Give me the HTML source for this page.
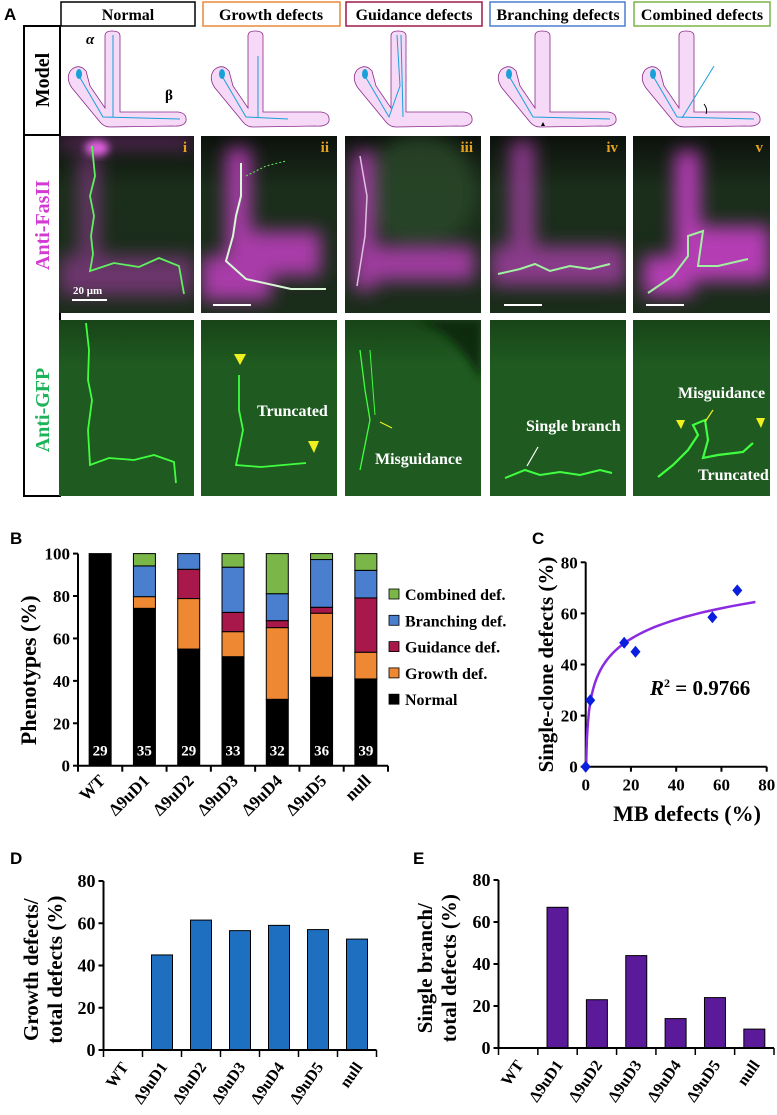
<!DOCTYPE html>
<html><head><meta charset="utf-8"><style>
html,body{margin:0;padding:0;background:#fff;}
svg{display:block;}
.ser{font-family:"Liberation Serif",serif;font-weight:bold;}
.san{font-family:"Liberation Sans",sans-serif;font-weight:bold;}
</style></head><body>
<svg id="fig" width="777" height="1115" viewBox="0 0 777 1115" xmlns="http://www.w3.org/2000/svg">
<defs>
<filter id="blur4" x="-30%" y="-30%" width="160%" height="160%"><feGaussianBlur stdDeviation="4"/></filter>
<filter id="blur8" x="-30%" y="-30%" width="160%" height="160%"><feGaussianBlur stdDeviation="9"/></filter>
<linearGradient id="g1" x1="0" y1="0" x2="0" y2="1"><stop offset="0" stop-color="#0c120c"/><stop offset="0.3" stop-color="#1b2e1b"/><stop offset="1" stop-color="#1a2c1a"/></linearGradient>
<linearGradient id="g2" x1="0" y1="0" x2="0" y2="1"><stop offset="0" stop-color="#184418"/><stop offset="0.25" stop-color="#1f5a20"/><stop offset="1" stop-color="#1f5a20"/></linearGradient>
<g id="lshape">
<path d="M45,10 Q45,5 52,5 Q60,5 60,10 L60,86 L118,86 Q127,87 126,95 Q124,101 112,100 L50,101 Q44,101 40,96 L12,62 Q5,52 11,44 Q19,37 26,45 L30,60 L45,82 Z" fill="#f6d9f6" stroke="#8a2a8a" stroke-width="0.8"/>
<ellipse cx="19" cy="48" rx="3" ry="5" fill="#1aa0d8"/>
</g>
</defs>

<text class="san" x="4" y="20" font-size="17">A</text>
<g>
<rect x="61" y="2" width="134" height="24" fill="#fff" stroke="#000" stroke-width="1.5"/>
<text class="ser" x="128" y="20" font-size="16" text-anchor="middle">Normal</text>
<rect x="203" y="2" width="137" height="24" fill="#fff" stroke="#e8893a" stroke-width="1.5"/>
<text class="ser" x="271" y="20" font-size="16" text-anchor="middle">Growth defects</text>
<rect x="346" y="2" width="136" height="24" fill="#fff" stroke="#a01848" stroke-width="1.5"/>
<text class="ser" x="414" y="20" font-size="16" text-anchor="middle">Guidance defects</text>
<rect x="490" y="2" width="135" height="24" fill="#fff" stroke="#4a7fcf" stroke-width="1.5"/>
<text class="ser" x="558" y="20" font-size="16" text-anchor="middle">Branching defects</text>
<rect x="634" y="2" width="136" height="24" fill="#fff" stroke="#7ab648" stroke-width="1.5"/>
<text class="ser" x="702" y="20" font-size="16" text-anchor="middle">Combined defects</text>
</g>
<rect x="24" y="26" width="36" height="109" fill="#fff" stroke="#000" stroke-width="2"/>
<text class="ser" x="0" y="0" font-size="20" text-anchor="middle" transform="translate(49,80) rotate(-90)">Model</text>
<rect x="24" y="135" width="36" height="361" fill="#fff" stroke="#000" stroke-width="2"/>
<text class="ser" x="0" y="0" font-size="20" fill="#d33ad3" text-anchor="middle" transform="translate(49,225) rotate(-90)">Anti-FasII</text>
<text class="ser" x="0" y="0" font-size="20" fill="#1db35a" text-anchor="middle" transform="translate(49,410) rotate(-90)">Anti-GFP</text>

<g transform="translate(60,26)">
<use href="#lshape"/>
<polyline points="19,50 43,91 120,93" fill="none" stroke="#1aa0d8" stroke-width="1"/>
<line x1="53" y1="9" x2="53" y2="91" stroke="#1aa0d8" stroke-width="1"/>
<text x="26" y="18" font-family="Liberation Serif,serif" font-style="italic" font-weight="bold" font-size="15">α</text>
<text x="105" y="74" font-family="Liberation Serif,serif" font-weight="bold" font-size="15">β</text>
</g>
<g transform="translate(203,26)">
<use href="#lshape"/>
<polyline points="19,50 43,91 85,93" fill="none" stroke="#1aa0d8" stroke-width="1"/>
<line x1="55" y1="30" x2="55" y2="91" stroke="#1aa0d8" stroke-width="1"/>
</g>
<g transform="translate(346,26)">
<use href="#lshape"/>
<polyline points="19,50 43,91 54,60 51,9" fill="none" stroke="#1aa0d8" stroke-width="1"/>
<line x1="55" y1="9" x2="57" y2="91" stroke="#1aa0d8" stroke-width="1"/>
</g>
<g transform="translate(490,26)">
<use href="#lshape"/>
<polyline points="19,50 43,91 120,93" fill="none" stroke="#1aa0d8" stroke-width="1"/>
<path d="M53,96 l-2,4 h4 z" fill="#000"/>
</g>
<g transform="translate(634,26)">
<use href="#lshape"/>
<polyline points="19,50 43,91 120,93" fill="none" stroke="#1aa0d8" stroke-width="1"/>
<line x1="48" y1="92" x2="80" y2="40" stroke="#1aa0d8" stroke-width="1"/>
<path d="M70,78 q4,5 2,10" fill="none" stroke="#000" stroke-width="1"/>
</g>

<g>
<svg x="59" y="136" width="135" height="177"><rect width="135" height="177" fill="url(#g1)"/>
<g filter="url(#blur8)" fill="#b03cb0" opacity="0.55"><rect x="0" y="0" width="135" height="12"/><rect x="20" y="20" width="20" height="120"/><rect x="0" y="120" width="135" height="40"/></g>
<ellipse cx="38" cy="12" rx="12" ry="8" fill="#e060e0" filter="url(#blur4)"/>
<polyline points="33,10 36,40 31,60 35,80 32,100 34,118 31,135 55,127 80,131 100,122 120,130 125,158" fill="none" stroke="#5ef05e" stroke-width="1.8"/>
<rect x="13" y="163" width="35" height="2" fill="#fff"/><text class="ser" x="14" y="158" font-size="11" fill="#fff">20 μm</text>
<text class="ser" x="128" y="16" font-size="15" fill="#e8a020" text-anchor="end">i</text></svg>
<svg x="201" y="136" width="136" height="177"><rect width="136" height="177" fill="url(#g1)"/>
<g filter="url(#blur8)" fill="#cc40cc" opacity="0.8"><rect x="25" y="12" width="25" height="130"/><rect x="40" y="95" width="80" height="45"/><rect x="0" y="120" width="70" height="45"/></g>
<polyline points="40,27 40,60 35,80 32,100 25,125 45,143 90,153 125,153" fill="none" stroke="#d8f8d8" stroke-width="2"/>
<polyline points="45,40 65,30 85,25" fill="none" stroke="#5ef05e" stroke-width="1" stroke-dasharray="2,2"/>
<rect x="12" y="168" width="38" height="2" fill="#fff"/>
<text class="ser" x="128" y="16" font-size="15" fill="#e8a020" text-anchor="end">ii</text></svg>
<svg x="345" y="136" width="136" height="177"><rect width="136" height="177" fill="url(#g1)"/>
<rect x="20" y="0" width="110" height="110" rx="50" fill="#2c4a2c" opacity="0.8" filter="url(#blur8)"/>
<g filter="url(#blur8)" fill="#c040c0" opacity="0.8"><rect x="8" y="15" width="22" height="140"/><rect x="10" y="110" width="120" height="35"/></g>
<polyline points="15,20 22,60 20,100 12,150" fill="none" stroke="#e0c0e0" stroke-width="1.5"/>
<text class="ser" x="128" y="16" font-size="15" fill="#e8a020" text-anchor="end">iii</text></svg>
<svg x="490" y="136" width="136" height="177"><rect width="136" height="177" fill="url(#g1)"/>
<g filter="url(#blur8)" fill="#b040b0" opacity="0.75"><rect x="20" y="5" width="25" height="120"/><rect x="0" y="110" width="136" height="40"/></g>
<polyline points="8,138 30,133 45,128 60,135 80,130 100,133 120,128" fill="none" stroke="#a0f0a0" stroke-width="2"/>
<rect x="14" y="168" width="38" height="2" fill="#fff"/>
<text class="ser" x="128" y="16" font-size="15" fill="#e8a020" text-anchor="end">iv</text></svg>
<svg x="633" y="136" width="137" height="177"><rect width="137" height="177" fill="url(#g1)"/>
<g filter="url(#blur8)" fill="#d040d0" opacity="0.85"><rect x="42" y="15" width="25" height="130"/><rect x="60" y="90" width="77" height="55"/><rect x="10" y="120" width="50" height="40"/></g>
<polyline points="15,157 40,140 55,120 55,100 70,95 65,130 85,130 115,123" fill="none" stroke="#a0f0a0" stroke-width="2"/>
<rect x="13" y="168" width="38" height="2" fill="#fff"/>
<text class="ser" x="130" y="16" font-size="15" fill="#e8a020" text-anchor="end">v</text></svg>
</g>

<g>
<svg x="59" y="320" width="135" height="176"><rect width="135" height="176" fill="url(#g2)"/>
<polyline points="27,3 30,30 29,60 33,80 29,110 31,145 50,138 75,140 95,135 115,142 117,163" fill="none" stroke="#40ff40" stroke-width="1.8"/></svg>
<svg x="201" y="320" width="136" height="176"><rect width="136" height="176" fill="url(#g2)"/>
<polyline points="38,55 38,90 42,110 35,145 60,147 105,143" fill="none" stroke="#40ff40" stroke-width="1.8"/>
<path d="M33,34 h12 l-6,11 z" fill="#f0f020"/><path d="M107,121 h11 l-5,12 z" fill="#f0f020"/>
<text class="ser" x="56" y="96" font-size="16" fill="#fff">Truncated</text></svg>
<svg x="345" y="320" width="136" height="176"><rect width="136" height="176" fill="url(#g2)"/>
<path d="M70,0 H136 V60 Q110,10 70,0 Z" fill="#0e2a0e" filter="url(#blur4)"/>
<polyline points="15,30 20,70 25,100 15,150" fill="none" stroke="#40ff40" stroke-width="1.3"/>
<polyline points="25,30 28,70 30,95" fill="none" stroke="#40ff40" stroke-width="1"/>
<line x1="35" y1="102" x2="47" y2="108" stroke="#f0f020" stroke-width="1.2"/>
<text class="ser" x="30" y="144" font-size="16" fill="#fff">Misguidance</text></svg>
<svg x="490" y="320" width="136" height="176"><rect width="136" height="176" fill="url(#g2)"/>
<polyline points="15,158 35,150 50,155 70,152 90,155 110,150 122,153" fill="none" stroke="#40ff40" stroke-width="2"/>
<line x1="37" y1="146" x2="48" y2="127" stroke="#fff" stroke-width="1.2"/>
<text class="ser" x="36" y="111" font-size="16" fill="#fff">Single branch</text></svg>
<svg x="633" y="320" width="137" height="176"><rect width="137" height="176" fill="url(#g2)"/>
<polyline points="25,157 40,145 55,130 65,115 60,105 72,100 75,120 70,138 85,135 110,132 120,123" fill="none" stroke="#40ff40" stroke-width="2.2"/>
<path d="M43,100 h9 l-4,9 z" fill="#f0f020"/><path d="M123,98 h9 l-4,10 z" fill="#f0f020"/>
<line x1="80" y1="90" x2="72" y2="102" stroke="#f0f020" stroke-width="1.2"/>
<text class="ser" x="45" y="78" font-size="16" fill="#fff">Misguidance</text>
<text class="ser" x="65" y="160" font-size="16" fill="#fff">Truncated</text></svg>
</g>

<text class="san" x="10" y="544" font-size="17">B</text>
<text class="san" x="532" y="544" font-size="17">C</text>
<text class="san" x="10" y="864" font-size="17">D</text>
<text class="san" x="413" y="864" font-size="17">E</text>

<g id="chartB"></g>
<g id="chartC"></g>
<g id="chartD"></g>
<g id="chartE"></g>
</svg>

<script>
const categories = ["WT","Δ9uD1","Δ9uD2","Δ9uD3","Δ9uD4","Δ9uD5","null"];
const normalVals = [100,74.2,55,51.4,31.3,41.7,40.9];
const growthVals = [0,5.5,23.8,11.8,33.8,30.2,12.6];
const guidanceVals = [0,0,13.8,9.1,3.3,2.8,25.6];
const branchingVals = [0,14.5,7.4,21.3,12.7,22.5,13];
const combinedVals = [0,5.8,0,6.4,18.9,2.8,7.9];
const sampleSizes = [29,35,29,33,32,36,39];
const bTicks = [0,20,40,60,80,100];
const scatterX = [0,2,17,22,56,67];
const scatterY = [0,26,48.5,45,58.5,69];
const fitA = 17.4, fitB = 10.9;
const cTicks = [0,20,40,60,80];
const growthShare = [0,45,61.5,56.5,59,57,52.5];
const singleBranchShare = [0,67,23,44,14,24,9];
const deTicks = [0,20,40,60,80];

const NS="http://www.w3.org/2000/svg";
function mk(parent,tag,attrs,text){const e=document.createElementNS(NS,tag);for(const k in attrs)e.setAttribute(k,attrs[k]);if(text!==undefined)e.textContent=text;parent.appendChild(e);return e;}

(function(){
const g=document.getElementById('chartB');
const x0=78,x1=388,y0=765.7,ppu=2.121;
const step=(x1-x0)/categories.length, bw=22;
const ys=v=>y0-v*ppu;
const xs=i=>x0+step*(i+0.5);
const series=[[normalVals,"#000000","Normal"],[growthVals,"#ee8833","Growth def."],[guidanceVals,"#a8184a","Guidance def."],[branchingVals,"#4a7fcf","Branching def."],[combinedVals,"#7ab648","Combined def."]];
categories.forEach((c,i)=>{let acc=0;
 series.forEach(s=>{const v=s[0][i];if(v<=0)return;
  const r=mk(g,'rect',{x:xs(i)-bw/2,y:ys(acc+v),width:bw,height:v*ppu,fill:s[1],stroke:'#000','stroke-width':1});
  
  
  acc+=v;});
 const t=mk(g,'text',{x:xs(i),y:y0-10,'text-anchor':'middle','font-size':15,fill:'#fff',class:'ser'},sampleSizes[i]);
 
 
 const lb=mk(g,'text',{class:'ser','font-size':17,'text-anchor':'end',transform:`translate(${xs(i)+6},${y0+16}) rotate(-45)`},c);
 
 
});
const ax=mk(g,'path',{d:`M${x0},${ys(100)} V${y0} H${x1}`,fill:'none',stroke:'#000','stroke-width':2});


for(let i=0;i<=categories.length;i++)mk(g,'line',{x1:x0+step*i,x2:x0+step*i,y1:y0,y2:y0+6,stroke:'#000','stroke-width':2});
bTicks.forEach(t=>{mk(g,'line',{x1:x0-5,x2:x0,y1:ys(t),y2:ys(t),stroke:'#000','stroke-width':2});
 const tl=mk(g,'text',{x:x0-8,y:ys(t)+6,'text-anchor':'end','font-size':17,class:'ser'},t);
 
 });
const yt=mk(g,'text',{class:'ser','font-size':22,'text-anchor':'middle',transform:`translate(36,${ys(45)}) rotate(-90)`},'Phenotypes (%)');


series.slice().reverse().forEach((s,k)=>{const y=594+k*26.3;
 const sq=mk(g,'rect',{x:389,y:y-5,width:10,height:10,fill:s[1],stroke:'#000','stroke-width':0.8});
 
 
 const lt=mk(g,'text',{x:405,y:y+6,'font-size':16,class:'ser'},s[2]);
 
 });
})();

(function(){
const g=document.getElementById('chartC');
const x0=585.7,x1=766.7,y0=766.7,y1=562.3;
const xs=v=>x0+(x1-x0)*v/80, ys=v=>y0-(y0-y1)*v/80;
const ax=mk(g,'path',{d:`M${x0},${y1} V${y0} H${x1}`,fill:'none',stroke:'#000','stroke-width':2});


cTicks.forEach(t=>{mk(g,'line',{x1:x0-5,x2:x0,y1:ys(t),y2:ys(t),stroke:'#000','stroke-width':2});
 mk(g,'line',{x1:xs(t),x2:xs(t),y1:y0,y2:y0+5,stroke:'#000','stroke-width':2});
 const a=mk(g,'text',{x:x0-8,y:ys(t)+6,'text-anchor':'end','font-size':17,class:'ser'},t);
 
 
 const b=mk(g,'text',{x:xs(t),y:y0+24,'text-anchor':'middle','font-size':17,class:'ser'},t);
 
 });
let d='';for(let v=0.2;v<=75;v*=1.08){const y=fitA+fitB*Math.log(v);d+=(d?'L':'M')+xs(v).toFixed(1)+','+ys(Math.max(0,y)).toFixed(1);}
d+='L'+xs(75)+','+ys(fitA+fitB*Math.log(75));
const fl=mk(g,'path',{d:'M'+xs(0)+','+ys(0)+' '+d.replace('M','L'),fill:'none',stroke:'#8a2be2','stroke-width':2.5});


scatterX.forEach((v,i)=>{const cx=xs(v),cy=ys(scatterY[i]);
 const p=mk(g,'path',{d:`M${cx},${cy-6} L${cx+5},${cy} L${cx},${cy+6} L${cx-5},${cy} Z`,fill:'#0a1ee0'});
 
 });
const r2=mk(g,'text',{x:650,y:695,'font-size':21,class:'ser'});


mk(r2,'tspan',{'font-style':'italic'},'R');mk(r2,'tspan',{dy:-8,'font-size':12},'2');mk(r2,'tspan',{dy:8},' = 0.9766');
const xt=mk(g,'text',{x:687,y:821,'text-anchor':'middle','font-size':22,class:'ser'},'MB defects (%)');


const yt=mk(g,'text',{class:'ser','font-size':21,'text-anchor':'middle',transform:`translate(553,${ys(40)}) rotate(-90)`},'Single-clone defects (%)');


})();

function barChart(id,vals,color,x0,x1,y0,y80,t1,t2,tx){
const g=document.getElementById(id);
const step=(x1-x0)/categories.length,bw=21;
const ys=v=>y0-(y0-y80)*v/80, xs=i=>x0+step*(i+0.5);
vals.forEach((v,i)=>{if(v>0){const r=mk(g,'rect',{x:xs(i)-bw/2,y:ys(v),width:bw,height:y0-ys(v),fill:color,stroke:'#000','stroke-width':1});
 
 }
 const lb=mk(g,'text',{class:'ser','font-size':16,'text-anchor':'end',transform:`translate(${xs(i)+6},${y0+17}) rotate(-55)`},categories[i]);
 
 });
const ax=mk(g,'path',{d:`M${x0},${y80} V${y0} H${x1}`,fill:'none',stroke:'#000','stroke-width':2});


for(let i=0;i<=categories.length;i++)mk(g,'line',{x1:x0+step*i,x2:x0+step*i,y1:y0,y2:y0+7,stroke:'#000','stroke-width':1.5});
deTicks.forEach(t=>{mk(g,'line',{x1:x0-5,x2:x0,y1:ys(t),y2:ys(t),stroke:'#000','stroke-width':2});
 const tl=mk(g,'text',{x:x0-8,y:ys(t)+6,'text-anchor':'end','font-size':18,class:'ser'},t);
 
 });
const yt=mk(g,'text',{class:'ser','font-size':21,'text-anchor':'middle',transform:`translate(${tx},${ys(38)}) rotate(-90)`});


mk(yt,'tspan',{x:0,dy:0},t1);mk(yt,'tspan',{x:0,dy:24},t2);
}
barChart('chartD',growthShare,'#1f6fc0',103.5,376.5,1050,881,'Growth defects/','total defects (%)',38);
barChart('chartE',singleBranchShare,'#5a1a9a',498.5,774,1048,880,'Single branch/','total defects (%)',432);
</script>
</body></html>
